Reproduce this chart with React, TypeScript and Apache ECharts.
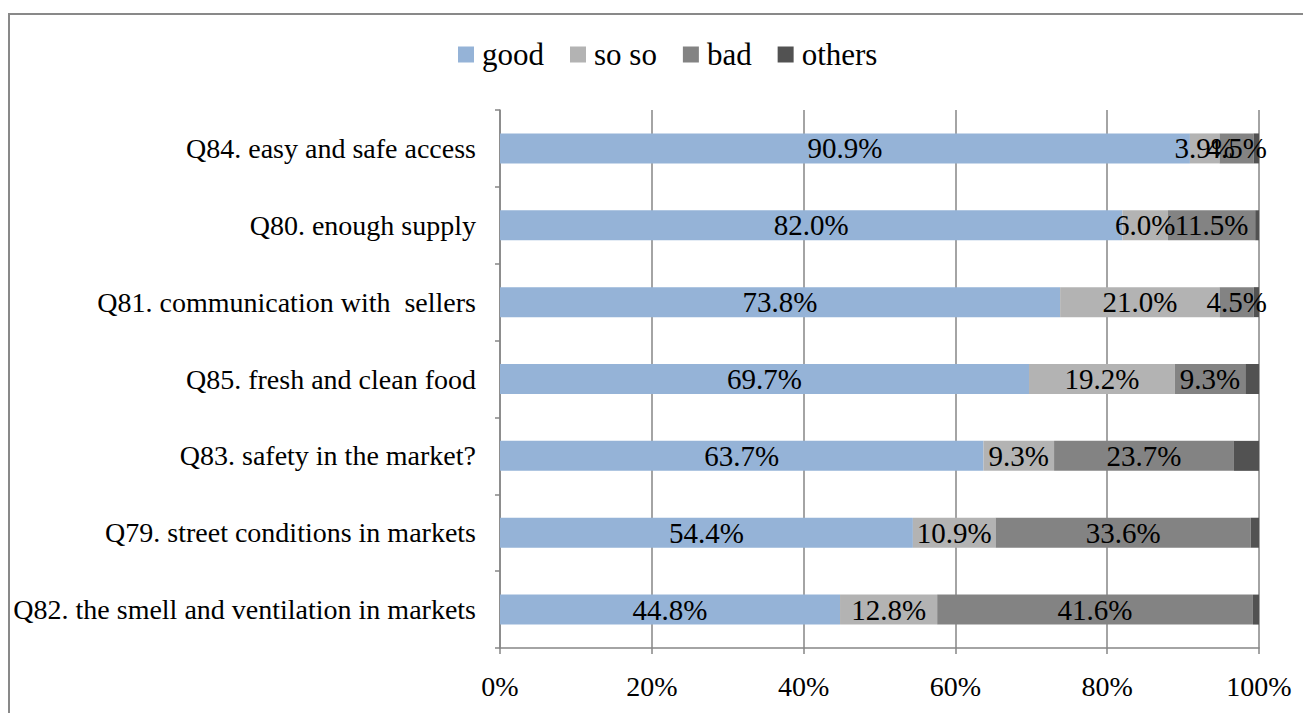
import React, { useEffect, useRef } from "react";
import * as echarts from "echarts";

const categories = [
  "Q82. the smell and ventilation in markets",
  "Q79. street conditions in markets",
  "Q83. safety in the market?",
  "Q85. fresh and clean food",
  "Q81. communication with  sellers",
  "Q80. enough supply",
  "Q84. easy and safe access",
];
const good = [44.8, 54.4, 63.7, 69.7, 73.8, 82.0, 90.9];
const soso = [12.8, 10.9, 9.3, 19.2, 21.0, 6.0, 3.9];
const bad = [41.6, 33.6, 23.7, 9.3, 4.5, 11.5, 4.5];
const others = [0.8, 1.1, 3.3, 1.8, 0.7, 0.5, 0.7];
const seriesNames = ["good", "so so", "bad", "others"];
const colors = ["#95b3d7", "#b3b3b3", "#838383", "#525252"];
const xTicks = [0, 20, 40, 60, 80, 100];

const FONT = "Times New Roman, serif";

export default function App() {
  const ref = useRef<HTMLDivElement>(null);
  useEffect(() => {
    if (!ref.current) return;
    const chart = echarts.init(ref.current, null, { renderer: "svg" });
    const dataSets = [good, soso, bad, others];
    chart.setOption({
      animation: false,
      backgroundColor: "#ffffff",
      color: colors,
      textStyle: { fontFamily: FONT, color: "#000" },
      graphic: [
        {
          type: "rect",
          shape: { x: 9, y: 14, width: 1400, height: 900 },
          style: { fill: "none", stroke: "#898989", lineWidth: 2 },
          silent: true,
        },
      ],
      legend: {
        top: 34,
        left: 453,
        itemWidth: 16,
        itemHeight: 16,
        itemGap: 26,
        icon: "rect",
        textStyle: { fontFamily: FONT, fontSize: 31, color: "#000", padding: [0, 0, 0, 3] },
        data: seriesNames,
      },
      grid: {
        left: 500,
        right: 44,
        top: 110,
        bottom: 65,
        containLabel: false,
        outerBoundsMode: "none",
      },
      xAxis: {
        type: "value",
        min: 0,
        max: 100,
        interval: 20,
        axisLine: { show: true, lineStyle: { color: "#868686", width: 1.5 } },
        axisTick: { show: true, length: 6, lineStyle: { color: "#868686", width: 1.5 } },
        splitLine: { show: true, lineStyle: { color: "#868686", width: 1.5 } },
        axisLabel: {
          fontFamily: FONT,
          fontSize: 28,
          color: "#000",
          margin: 24,
          formatter: (v: number) => (xTicks.includes(v) ? v + "%" : ""),
        },
      },
      yAxis: {
        type: "category",
        data: categories,
        axisLine: { show: true, lineStyle: { color: "#868686", width: 1.5 } },
        axisTick: { show: true, length: 5, lineStyle: { color: "#868686", width: 1.5 } },
        axisLabel: { fontFamily: FONT, fontSize: 28, color: "#000", margin: 24 },
        splitLine: { show: false },
      },
      series: seriesNames.map((name, i) => ({
        name,
        type: "bar",
        stack: "total",
        barWidth: 30,
        data: dataSets[i],
        itemStyle: { color: colors[i] },
        label: {
          show: i < 3,
          position: "inside",
          fontFamily: FONT,
          fontSize: 29,
          color: "#000",
          formatter: (p: any) => p.value.toFixed(1) + "%",
        },
        labelLayout: { hideOverlap: false },
      })),
    });
    return () => chart.dispose();
  }, []);
  return (
    <div
      ref={ref}
      style={{ position: "fixed", left: 0, top: 0, width: 1303, height: 713 }}
    />
  );
}
